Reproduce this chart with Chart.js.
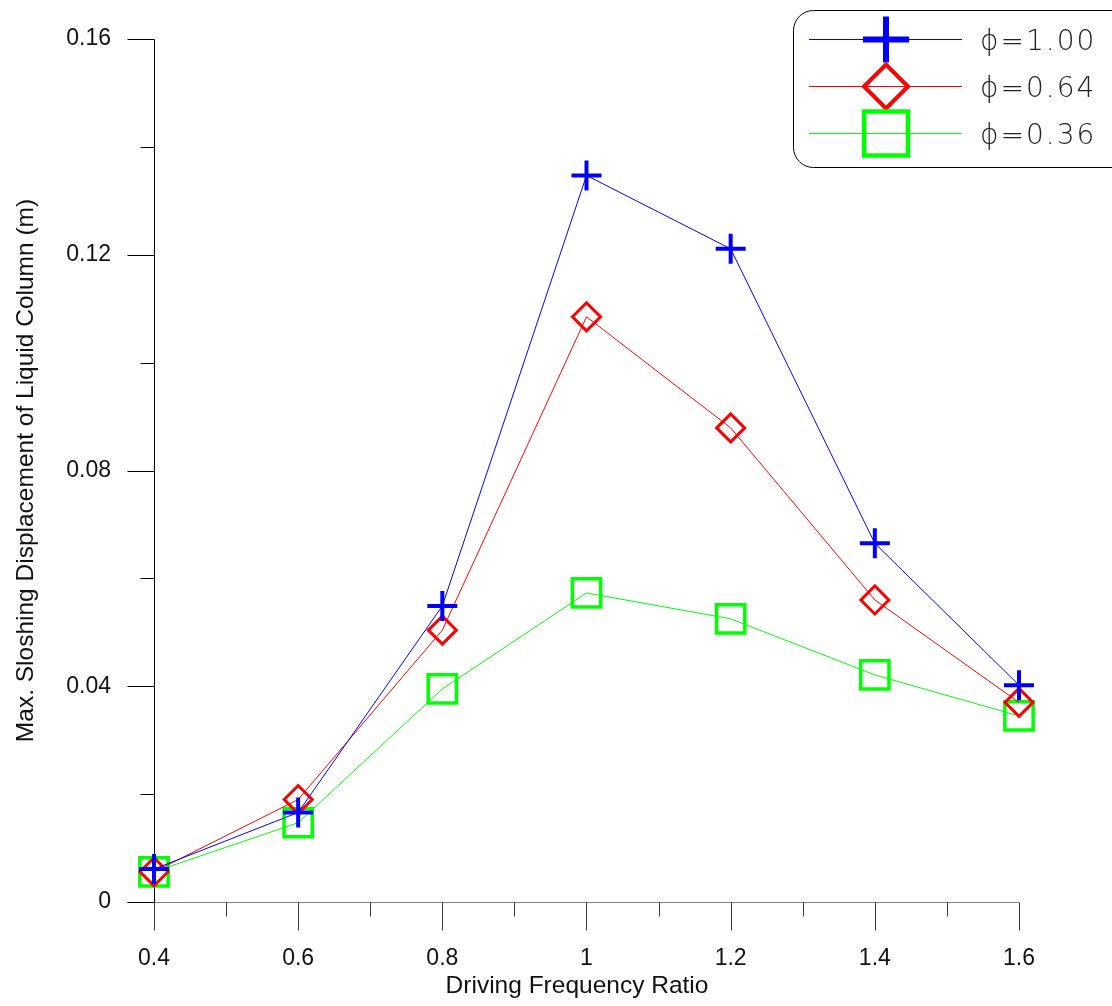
<!DOCTYPE html>
<html>
<head>
<meta charset="utf-8">
<script src="https://cdn.jsdelivr.net/npm/chart.js@4/dist/chart.umd.min.js"></script>
<style>
  html, body { margin: 0; padding: 0; background: #ffffff; }
  #wrap { width: 1112px; height: 1006px; position: relative; }
</style>
</head>
<body>
<div id="wrap"><canvas id="chart" width="1112" height="1006"></canvas></div>
<script>
// Driving frequency ratios (x) and maximum sloshing displacement (m) per phi
const ratios = [0.4, 0.6, 0.8, 1.0, 1.2, 1.4, 1.6];
const phi100 = [0.0061, 0.0166, 0.0549, 0.1347, 0.1211, 0.0665, 0.0402];
const phi064 = [0.0056, 0.0190, 0.0504, 0.1085, 0.0879, 0.0560, 0.0370];
const phi036 = [0.0056, 0.0147, 0.0395, 0.0573, 0.0525, 0.0421, 0.0345];

const seriesNames = ['\u03D5=1.00', '\u03D5=0.64', '\u03D5=0.36'];
const xTickLabels = ['0.4', '0.6', '0.8', '1', '1.2', '1.4', '1.6'];
const yTickLabels = ['0', '0.04', '0.08', '0.12', '0.16'];
const xTitle = 'Driving Frequency Ratio';
const yTitle = 'Max. Sloshing Displacement of Liquid Column (m)';

const FONT = '"Liberation Sans", Arial, sans-serif';

const toPoints = vals => ratios.map((x, i) => ({ x: x, y: vals[i] }));

const styles = [
  { color: '#0000ff', pointStyle: 'cross',   radius: 15, pw: 4, lr: 23, lw: 6 },
  { color: '#ff0000', pointStyle: 'rectRot', radius: 14, pw: 3, lr: 22, lw: 4 },
  { color: '#00ff00', pointStyle: 'rect',    radius: 20, pw: 3.5, lr: 31, lw: 4.5 }
];
const seriesValues = [phi100, phi064, phi036];

const datasets = seriesValues.map((vals, i) => ({
  label: seriesNames[i],
  data: toPoints(vals),
  borderColor: styles[i].color,
  borderWidth: 1,
  backgroundColor: 'transparent',
  pointStyle: styles[i].pointStyle,
  pointRadius: styles[i].radius,
  pointBorderWidth: styles[i].pw,
  pointBorderColor: styles[i].color,
  pointBackgroundColor: 'transparent',
  tension: 0,
  clip: false
}));

// Axis lines with major and minor ticks, drawn beneath the series
const axesPlugin = {
  id: 'axesPlugin',
  beforeDatasetsDraw(chart) {
    const ctx = chart.ctx;
    const xs = chart.scales.x, ys = chart.scales.y;
    const x0 = Math.round(xs.getPixelForValue(0.4)) + 0.5;
    const y0 = Math.round(ys.getPixelForValue(0)) + 0.5;
    const yTop = Math.round(ys.getPixelForValue(0.16)) + 0.5;
    const xEnd = Math.round(xs.getPixelForValue(1.6)) + 0.5;
    ctx.save();
    ctx.lineWidth = 1;
    // x axis
    ctx.strokeStyle = '#808080';
    ctx.beginPath();
    ctx.moveTo(x0 - 27, y0);
    ctx.lineTo(xEnd, y0);
    ctx.stroke();
    ctx.strokeStyle = '#3a3a3a';
    for (let k = 0; k <= 12; k++) {
      const v = 0.4 + k * 0.1;
      const px = Math.round(xs.getPixelForValue(v)) + 0.5;
      const len = (k % 2 === 0) ? 28 : 14;
      ctx.beginPath();
      ctx.moveTo(px, y0);
      ctx.lineTo(px, y0 + len);
      ctx.stroke();
    }
    // y axis
    ctx.strokeStyle = '#000000';
    ctx.beginPath();
    ctx.moveTo(x0, yTop);
    ctx.lineTo(x0, y0);
    ctx.stroke();
    for (let k = 0; k <= 8; k++) {
      const v = k * 0.02;
      const py = Math.round(ys.getPixelForValue(v)) + 0.5;
      const len = (k % 2 === 0) ? 27 : 14;
      ctx.beginPath();
      ctx.moveTo(x0 - len, py);
      ctx.lineTo(x0, py);
      ctx.stroke();
    }
    ctx.restore();
  },
  afterDraw(chart) {
    const ctx = chart.ctx;
    const area = chart.chartArea;
    ctx.save();
    ctx.fillStyle = '#111111';
    ctx.font = '24.5px ' + FONT;
    // x title
    ctx.textAlign = 'center';
    ctx.textBaseline = 'alphabetic';
    ctx.fillText(xTitle, 577, 993);
    // y title, centred on the plot height
    ctx.save();
    ctx.translate(33, (area.top + area.bottom) / 2);
    ctx.rotate(-Math.PI / 2);
    ctx.fillText(yTitle, 0, 0);
    ctx.restore();

    // legend box
    const bx = 793.5, by = 10.5, bw = 340, bh = 157, r = 20;
    ctx.strokeStyle = '#000000';
    ctx.lineWidth = 1;
    ctx.beginPath();
    ctx.moveTo(bx + r, by);
    ctx.lineTo(bx + bw - r, by);
    ctx.arcTo(bx + bw, by, bx + bw, by + r, r);
    ctx.lineTo(bx + bw, by + bh - r);
    ctx.arcTo(bx + bw, by + bh, bx + bw - r, by + bh, r);
    ctx.lineTo(bx + r, by + bh);
    ctx.arcTo(bx, by + bh, bx, by + bh - r, r);
    ctx.lineTo(bx, by + r);
    ctx.arcTo(bx, by, bx + r, by, r);
    ctx.closePath();
    ctx.stroke();

    const rows = [39.5, 86.5, 133.5];
    rows.forEach((ry, i) => {
      const s = styles[i];
      ctx.save();
      ctx.strokeStyle = s.color;
      ctx.lineWidth = 1;
      ctx.beginPath();
      ctx.moveTo(809, ry);
      ctx.lineTo(962, ry);
      ctx.stroke();
      ctx.restore();
      ctx.save();
      ctx.strokeStyle = s.color;
      ctx.fillStyle = 'rgba(0,0,0,0)';
      ctx.lineWidth = s.lw;
      Chart.helpers.drawPoint(ctx, {
        pointStyle: s.pointStyle, rotation: 0, radius: s.lr, borderWidth: s.lw
      }, 886, ry);
      ctx.restore();
      ctx.save();
      ctx.fillStyle = '#222222';
      ctx.font = '300 28px "DejaVu Sans", sans-serif';
      ctx.textAlign = 'left';
      ctx.textBaseline = 'alphabetic';
      if ('letterSpacing' in ctx) ctx.letterSpacing = '2px';
      ctx.fillText(seriesNames[i], 980, ry + 10.5);
      ctx.restore();
    });
    ctx.restore();
  }
};

new Chart(document.getElementById('chart'), {
  type: 'line',
  data: { datasets: datasets },
  plugins: [axesPlugin],
  options: {
    responsive: false,
    animation: false,
    events: [],
    layout: { padding: { top: 39, right: 93, bottom: 0, left: 0 } },
    plugins: { legend: { display: false }, tooltip: { enabled: false } },
    scales: {
      x: {
        type: 'linear',
        min: 0.4,
        max: 1.6,
        afterFit(scale) {
          scale.height = 104;
          scale.paddingLeft = 0;
          scale.paddingRight = 0;
        },
        grid: { display: false, drawTicks: false },
        border: { display: false },
        ticks: {
          stepSize: 0.2,
          padding: 43,
          color: '#111111',
          font: { family: FONT, size: 23 },
          maxRotation: 0,
          callback: (value, index) => xTickLabels[index]
        }
      },
      y: {
        type: 'linear',
        min: 0,
        max: 0.16,
        afterFit(scale) {
          scale.width = 154;
          scale.paddingTop = 0;
          scale.paddingBottom = 0;
        },
        grid: { display: false, drawTicks: false },
        border: { display: false },
        ticks: {
          stepSize: 0.04,
          padding: 43,
          color: '#111111',
          font: { family: FONT, size: 23 },
          callback: (value, index) => yTickLabels[index]
        }
      }
    }
  }
});
</script>
</body>
</html>
